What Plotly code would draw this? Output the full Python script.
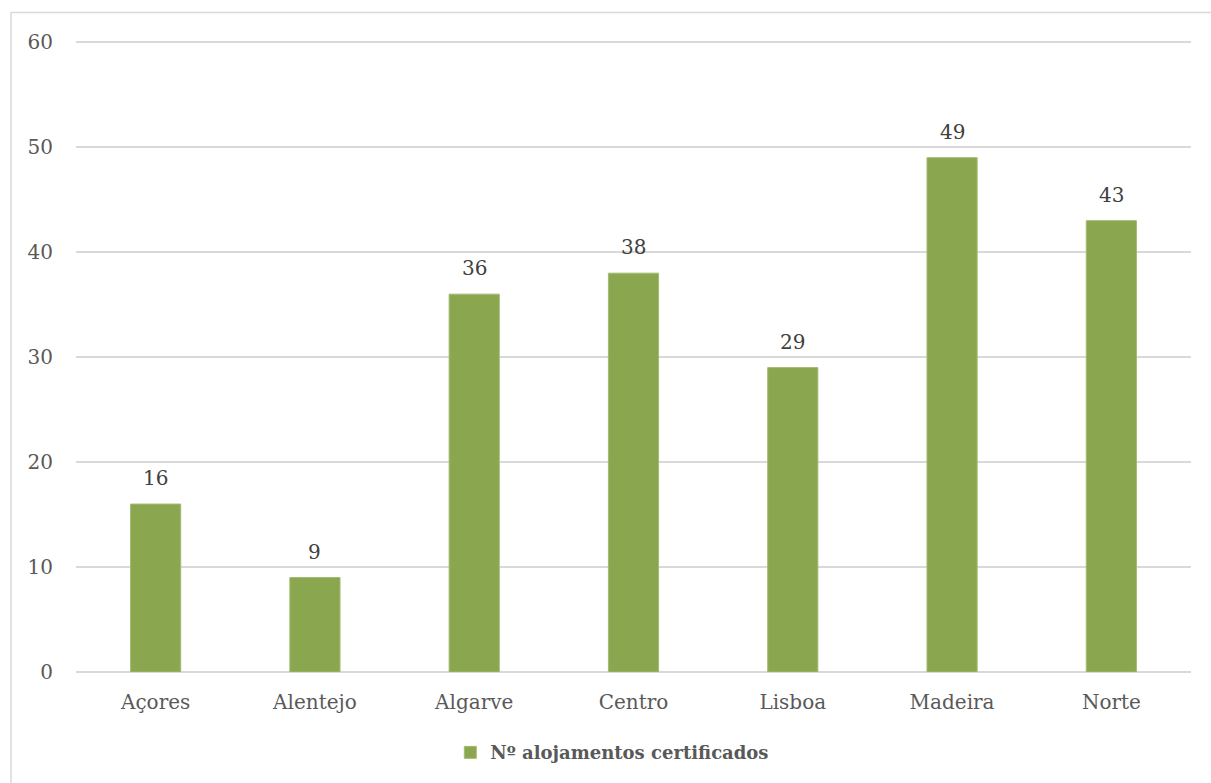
import plotly.graph_objects as go

categories = ["Açores", "Alentejo", "Algarve", "Centro", "Lisboa", "Madeira", "Norte"]
values = [16, 9, 36, 38, 29, 49, 43]
series_name = "Nº alojamentos certificados"
y_ticks = [0, 10, 20, 30, 40, 50, 60]

FONT = "DejaVu Serif"

fig = go.Figure()
fig.add_trace(go.Bar(
    x=categories, y=values, name=series_name,
    marker=dict(color="#8AA64E", line=dict(color="#A3BB74", width=1)),
    cliponaxis=False,
))

for c, v in zip(categories, values):
    fig.add_annotation(x=c, y=v, text=str(v), showarrow=False, yanchor="middle",
                       yshift=26, font=dict(family=FONT, size=20, color="#404040"))

fig.update_layout(
    width=1211, height=783,
    margin=dict(l=76, r=20, t=37, b=111),
    paper_bgcolor="white", plot_bgcolor="white",
    bargap=0.685,
    showlegend=True,
    legend=dict(orientation="h", x=0.481, xanchor="center", y=-0.127, yanchor="middle",
                font=dict(family=FONT, size=18, color="#595959", weight="bold"),
                itemwidth=30),
    xaxis=dict(showline=False, ticks="", tickfont=dict(family=FONT, size=20, color="#595959"),
               showgrid=False, ticklabelstandoff=16),
    yaxis=dict(range=[0, 60.5], tickvals=y_ticks, showgrid=True, gridcolor="#D9D9D9", gridwidth=1.5,
               zeroline=True, zerolinecolor="#D9D9D9", zerolinewidth=1.5,
               ticks="", ticklabelstandoff=22,
               tickfont=dict(family=FONT, size=20, color="#595959")),
    shapes=[dict(type="rect", xref="paper", yref="paper",
                 x0=(11 - 76) / 1116, x1=(1230 - 76) / 1116,
                 y0=(672 - 800) / 635, y1=(672 - 12.5) / 635,
                 line=dict(color="#D9D9D9", width=1.5), layer="below")],
)

fig.write_html("out.html")
